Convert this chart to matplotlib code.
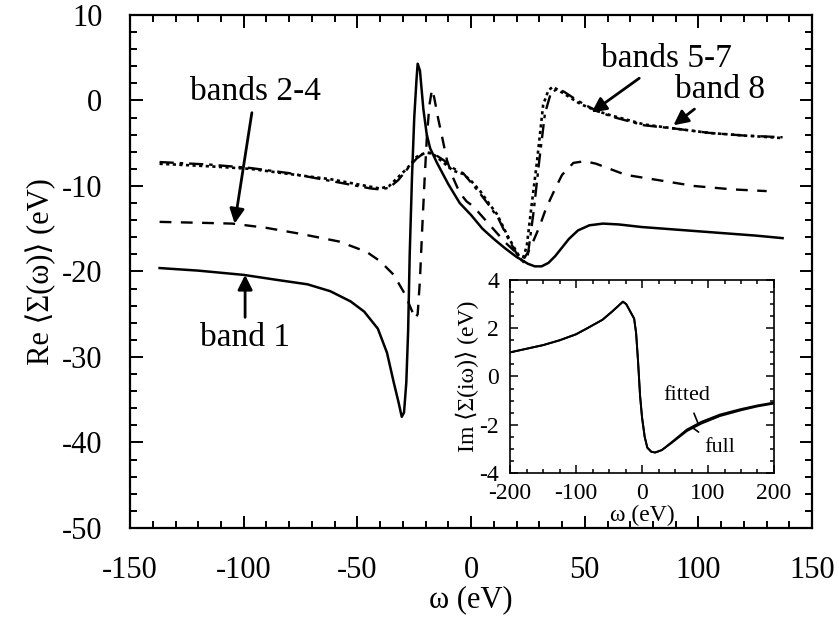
import matplotlib
matplotlib.use("Agg")
import matplotlib.pyplot as plt
from matplotlib.ticker import MultipleLocator

plt.rcParams['font.family'] = ['Liberation Serif', 'DejaVu Serif']

# ---------------- data ----------------
band1_x = [-137, -120, -100, -85, -72, -62, -53, -47, -41, -37, -34, -32, -30.5, -29.5,
           -28.5, -27.7, -27, -26, -25, -24, -23.5, -22.5, -21, -19.5, -18, -15, -13.6,
           -10, -5, 0, 5, 10, 15, 20, 25, 28, 31, 34, 37, 40, 43, 47, 52, 58, 65, 75,
           90, 110, 125, 137]
band1_y = [-19.6, -19.9, -20.4, -21.0, -21.5, -22.3, -23.5, -24.7, -26.7, -29.5, -33.0,
           -35.2, -37.0, -36.5, -33.0, -27.0, -18.0, -9.0, -2.0, 2.5, 4.3, 3.5, -1.0,
           -4.0, -5.6, -7.3, -8.0, -9.8, -12.0, -13.4, -15.0, -16.2, -17.3, -18.3,
           -19.1, -19.4, -19.4, -19.0, -18.2, -17.2, -16.2, -15.2, -14.6, -14.4, -14.5,
           -14.8, -15.1, -15.5, -15.8, -16.1]

bands24_x = [-137, -120, -105, -90, -75, -58, -46, -40, -34, -29, -26.5, -24.6, -23.5,
             -22.5, -21.5, -20.5, -19.4, -18.3, -17.2, -16.2, -14.5, -12.8, -10.6, -8,
             -5, -2, 1, 4, 8, 12, 15.8, 19, 21.5, 23.5, 26, 30, 33, 37, 40, 45, 50, 55,
             68, 82, 98, 115, 130]
bands24_y = [-14.2, -14.3, -14.4, -14.9, -15.6, -16.5, -17.7, -18.8, -20.4, -22.7, -24.3,
             -25.5, -25.0, -21.0, -15.0, -9.5, -4.0, -0.5, 1.3, 0.3, -2.1, -4.2, -7.0,
             -9.0, -10.8, -11.8, -12.4, -13.3, -14.5, -15.7, -16.8, -17.6, -18.1,
             -18.4, -17.3, -14.8, -12.6, -10.3, -8.7, -7.3, -7.1, -7.4, -8.7, -9.3,
             -10.0, -10.4, -10.6]

bands57_x = [-137, -115, -97, -80, -62, -50, -44, -40, -36, -32.6, -28, -24, -20, -17,
             -12, -8, -3.5, 0, 4, 8, 11.4, 15.8, 20, 22.5, 24.5, 26.5, 29, 31.7, 34,
             36, 39, 42, 48, 55, 61, 76, 90, 105, 120, 137]
bands57_y = [-7.4, -7.7, -8.0, -8.6, -9.2, -9.8, -10.1, -10.3, -10.0, -9.1, -7.9, -6.6,
             -6.1, -6.2, -7.3, -8.2, -8.6, -9.4, -10.6, -12.1, -13.3, -15.7, -17.7,
             -18.8, -17.0, -12.5, -7.1, -0.5, 1.2, 1.6, 1.1, 0.6, -0.4, -1.2, -1.7,
             -2.8, -3.3, -3.8, -4.1, -4.4]

band8_x = [-137, -115, -97, -80, -62, -50, -44, -40, -36, -32, -28, -24, -20, -16,
           -12, -8, -3.5, 0, 4, 8, 12, 16, 20, 23, 25, 27.5, 30, 32.5, 35, 38, 41,
           45, 50, 56, 62, 76, 90, 105, 120, 137]
band8_y = [-7.2, -7.5, -7.9, -8.5, -9.4, -10.0, -10.3, -10.4, -10.2, -9.3, -8.0, -6.8,
           -6.0, -6.3, -7.0, -7.9, -8.5, -9.6, -10.9, -12.3, -13.8, -16.0, -17.9,
           -18.9, -18.0, -13.0, -7.0, -1.5, 0.8, 1.4, 1.0, 0.3, -0.5, -1.3, -1.9,
           -2.9, -3.3, -3.8, -4.1, -4.3]

inset_x = [-200, -175, -150, -125, -100, -83, -60, -45, -35, -29, -24, -18, -12, -9,
           -6, -3, 0, 4, 8, 14, 20, 30, 45, 68, 90, 118, 150, 175, 200]
inset_fitted = [1.0, 1.15, 1.3, 1.5, 1.75, 2.0, 2.35, 2.7, 2.95, 3.1, 3.0, 2.7, 2.4,
                1.8, 0.6, -0.8, -1.7, -2.5, -2.95, -3.12, -3.15, -3.05, -2.72, -2.2,
                -1.88, -1.58, -1.35, -1.2, -1.08]
inset_full = [1.0, 1.15, 1.3, 1.5, 1.75, 2.0, 2.35, 2.7, 2.95, 3.1, 3.0, 2.7, 2.4,
              1.8, 0.6, -0.8, -1.7, -2.5, -2.95, -3.12, -3.15, -3.05, -2.75, -2.26,
              -1.95, -1.64, -1.4, -1.24, -1.12]

xticks_main = [-150, -100, -50, 0, 50, 100, 150]
yticks_main = [10, 0, -10, -20, -30, -40, -50]
xticks_inset = [-200, -100, 0, 100, 200]
yticks_inset = [4, 2, 0, -2, -4]

# ---------------- figure ----------------
fig = plt.figure(figsize=(8.39, 6.32), dpi=100)
ax = fig.add_axes([0.155, 0.1646, 0.813, 0.8117])

ax.plot(band1_x, band1_y, color='black', lw=1.8, ls='-')
ax.plot(bands24_x, bands24_y, color='black', lw=1.7, ls=(0, (5, 4)))
ax.plot(bands57_x, bands57_y, color='black', lw=1.9, ls=(0, (1.2, 1.3)))
ax.plot(band8_x, band8_y, color='black', lw=1.7, ls=(0, (6, 2.5, 1.5, 2.5)))

ax.set_xlim(-150, 150)
ax.set_ylim(-50, 10)
ax.set_xticks(xticks_main)
ax.set_xticklabels([f"{v:g}" for v in xticks_main])
ax.set_yticks(yticks_main)
ax.set_yticklabels([f"{v:g}" for v in yticks_main])
ax.xaxis.set_minor_locator(MultipleLocator(10))
ax.yaxis.set_minor_locator(MultipleLocator(2))
ax.tick_params(which='both', direction='in', top=True, right=True, width=1.4,
               labelsize=22)
ax.tick_params(which='major', length=9)
ax.tick_params(which='minor', length=5)
ax.tick_params(axis='x', which='major', pad=20)
ax.tick_params(axis='y', which='major', pad=20)
for s in ax.spines.values():
    s.set_linewidth(1.6)

ax.set_xlabel('ω (eV)', fontsize=22, labelpad=0)
ax.set_ylabel('Re ⟨Σ(ω)⟩ (eV)', fontsize=22, labelpad=4)

arrow = dict(arrowstyle='-|>', color='black', lw=2.0, mutation_scale=22,
             shrinkA=2, shrinkB=0)
ax.annotate('bands 2-4', xy=(-104, -14.4), xytext=(-95, 1.0), fontsize=24,
            ha='center', va='center', arrowprops=arrow)
ax.annotate('band 1', xy=(-99.4, -20.4), xytext=(-99.4, -27.8), fontsize=24,
            ha='center', va='center', arrowprops=arrow)
ax.annotate('bands 5-7', xy=(53, -1.4), xytext=(86, 4.9), fontsize=24,
            ha='center', va='center', arrowprops=arrow)
ax.annotate('band 8', xy=(89, -2.9), xytext=(109.5, 1.3), fontsize=24,
            ha='center', va='center', arrowprops=arrow)

# ---------------- inset ----------------
axi = fig.add_axes([0.608, 0.2516, 0.3145, 0.3054])
axi.plot(inset_x, inset_fitted, color='black', lw=1.4)
axi.plot(inset_x, inset_full, color='black', lw=1.4)
axi.set_xlim(-200, 200)
axi.set_ylim(-4, 4)
axi.set_xticks(xticks_inset)
axi.set_xticklabels([f"{v:g}" for v in xticks_inset])
axi.set_yticks(yticks_inset)
axi.set_yticklabels([f"{v:g}" for v in yticks_inset])
axi.xaxis.set_minor_locator(MultipleLocator(25))
axi.yaxis.set_minor_locator(MultipleLocator(0.5))
axi.tick_params(which='both', direction='in', top=True, right=True, width=1.1,
                labelsize=17)
axi.tick_params(which='major', length=6)
axi.tick_params(which='minor', length=3)
axi.tick_params(axis='x', which='major', pad=7)
axi.tick_params(axis='y', which='major', pad=8)
for s in axi.spines.values():
    s.set_linewidth(1.2)
axi.set_xlabel('ω (eV)', fontsize=17, labelpad=1)
axi.set_ylabel('Im ⟨Σ(iω)⟩ (eV)', fontsize=17, labelpad=0)

axi.annotate('fitted', xy=(85, -1.95), xytext=(68, -0.8), fontsize=16,
             ha='center', va='center',
             arrowprops=dict(arrowstyle='-', color='black', lw=1.2, shrinkA=4, shrinkB=0))
axi.annotate('full', xy=(78, -2.15), xytext=(118, -2.95), fontsize=16,
             ha='center', va='center',
             arrowprops=dict(arrowstyle='-', color='black', lw=1.2, shrinkA=4, shrinkB=0))

fig.savefig('out.png', dpi=100)
